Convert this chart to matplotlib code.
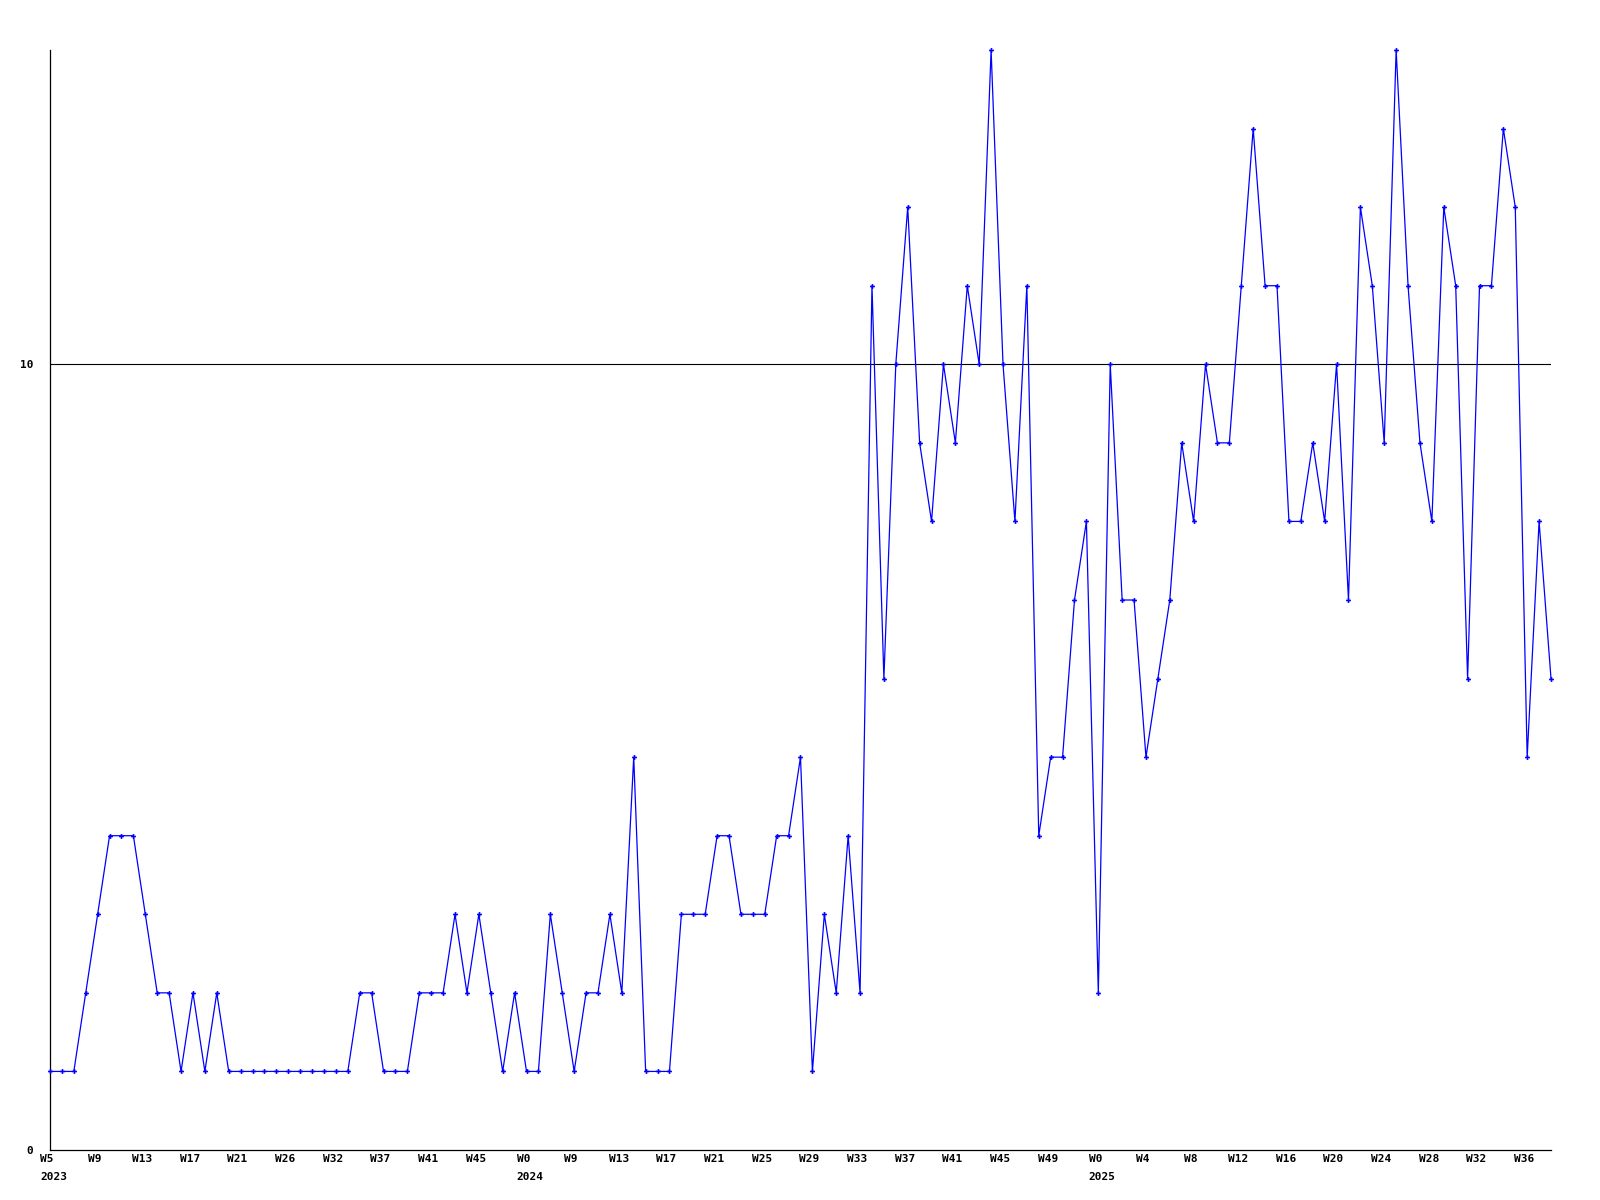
import numpy as np
import matplotlib
matplotlib.use('Agg')
from matplotlib import pyplot as plt
import matplotlib.transforms as mtransforms

# weekly values, one per point
values = [1, 1, 1, 2, 3, 4, 4, 4, 3, 2, 2, 1, 2, 1, 2, 1, 1, 1, 1, 1,
          1, 1, 1, 1, 1, 1, 2, 2, 1, 1, 1, 2, 2, 2, 3, 2, 3, 2, 1, 2,
          1, 1, 3, 2, 1, 2, 2, 3, 2, 5, 1, 1, 1, 3, 3, 3, 4, 4, 3, 3,
          3, 4, 4, 5, 1, 3, 2, 4, 2, 11, 6, 10, 12, 9, 8, 10, 9, 11, 10, 14,
          10, 8, 11, 4, 5, 5, 7, 8, 2, 10, 7, 7, 5, 6, 7, 9, 8, 10, 9, 9,
          11, 13, 11, 11, 8, 8, 9, 8, 10, 7, 12, 11, 9, 14, 11, 9, 8, 12, 11, 6,
          11, 11, 13, 12, 5, 8, 6]

# a label every 4 points
week_labels = ['W5', 'W9', 'W13', 'W17', 'W21', 'W26', 'W32', 'W37', 'W41', 'W45',
               'W0', 'W9', 'W13', 'W17', 'W21', 'W25', 'W29', 'W33', 'W37', 'W41',
               'W45', 'W49', 'W0', 'W4', 'W8', 'W12', 'W16', 'W20', 'W24', 'W28',
               'W32', 'W36']
year_labels = {0: '2023', 10: '2024', 22: '2025'}

fs = 8
font = dict(family='DejaVu Sans Mono', fontweight='bold', fontsize=fs)

fig = plt.figure(figsize=(16, 12), dpi=100)
ax = fig.add_axes([50/1600, 50/1200, 1501/1600, 1100/1200])

x = np.arange(len(values))
ax.plot(x, values, color='#0000ff', lw=0.9, marker='P', markersize=3.5,
        markeredgewidth=0, clip_on=False, zorder=3)
ax.axhline(10, color='black', lw=0.8, zorder=1)

ax.set_xlim(0, len(values) - 1)
ax.set_ylim(0, 14)

for s in ['top', 'right']:
    ax.spines[s].set_visible(False)
ax.spines['left'].set_linewidth(0.9)
ax.spines['bottom'].set_linewidth(0.9)

ax.set_yticks([0, 10])
ax.set_yticklabels(['0', '10'], **font)
ax.tick_params(axis='y', length=0, pad=12)

tick_pos = np.arange(len(week_labels)) * 4
ax.set_xticks(tick_pos)
ax.set_xticklabels(week_labels, **font)
ax.tick_params(axis='x', length=0, pad=3)

# labels sit a few pixels left of the points
shift = mtransforms.ScaledTranslation(-3/100, 0, fig.dpi_scale_trans)
for lab in ax.get_xticklabels():
    lab.set_transform(lab.get_transform() + shift)

# year under first week label of the year, left aligned with it
for i, yr in year_labels.items():
    w = len(week_labels[i]) * 0.602 * fs / 2
    tr = ax.get_xaxis_transform() + mtransforms.ScaledTranslation(-w/72 - 3/100, -27/100, fig.dpi_scale_trans)
    ax.text(tick_pos[i], 0, yr, transform=tr, ha='left', va='center', **font)

fig.savefig('out.png', dpi=100)
